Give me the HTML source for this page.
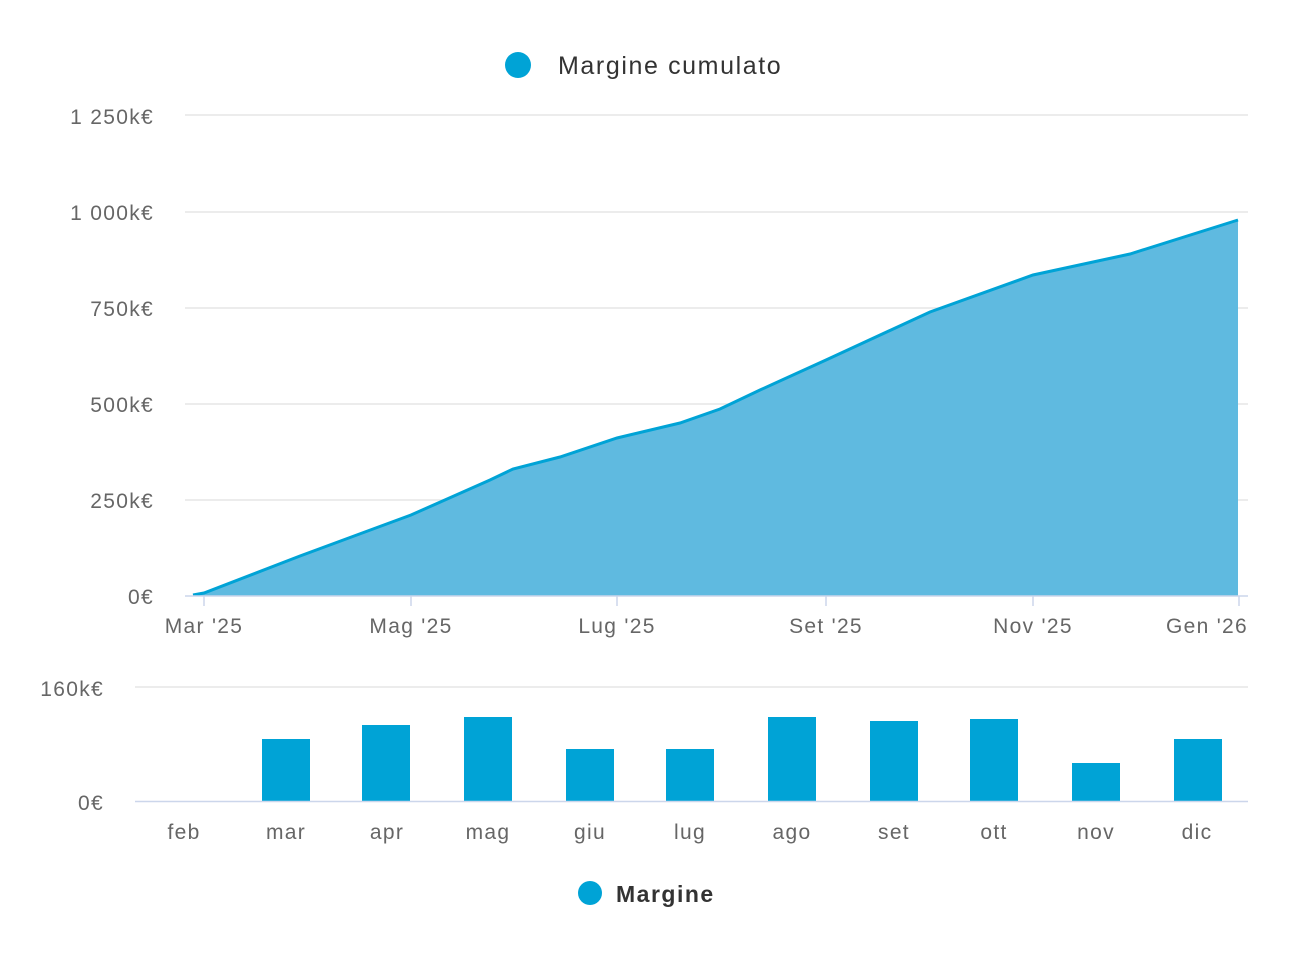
<!DOCTYPE html>
<html><head><meta charset="utf-8"><style>
html,body{margin:0;padding:0;background:#fff;}
svg{display:block;font-family:"Liberation Sans",sans-serif;}
</style></head><body>
<svg width="1302" height="960" viewBox="0 0 1302 960">
<circle cx="518" cy="65" r="13" fill="#00a3d6"/>
<text x="558" y="74" font-size="25" fill="#333" letter-spacing="1.6">Margine cumulato</text>
<g stroke="#e6e6e6" stroke-width="1.5">
<line x1="185" y1="115" x2="1248" y2="115"/>
<line x1="185" y1="212" x2="1248" y2="212"/>
<line x1="185" y1="308" x2="1248" y2="308"/>
<line x1="185" y1="404" x2="1248" y2="404"/>
<line x1="185" y1="500" x2="1248" y2="500"/>
</g>
<g font-size="21" fill="#666" text-anchor="end" letter-spacing="1.3">
<text x="154" y="124">1 250k€</text>
<text x="154" y="220">1 000k€</text>
<text x="154" y="316">750k€</text>
<text x="154" y="412">500k€</text>
<text x="154" y="508">250k€</text>
<text x="154" y="604">0€</text>
</g>
<path d="M193,595 L204,593 L300,556 L411,515 L490,480 L513,469 L560,457 L617,438 L680,423 L720,409 L760,390 L826,360 L930,312 L1033,275 L1130,254 L1238,220 L1238,596 L193,596 Z" fill="#5fbae0"/>
<path d="M193,595 L204,593 L300,556 L411,515 L490,480 L513,469 L560,457 L617,438 L680,423 L720,409 L760,390 L826,360 L930,312 L1033,275 L1130,254 L1238,220" fill="none" stroke="#00a3d6" stroke-width="3"/>
<line x1="185" y1="596" x2="1248" y2="596" stroke="#ccd6eb" stroke-width="1.5"/>
<g stroke="#ccd6eb" stroke-width="1.5">
<line x1="204" y1="596" x2="204" y2="606"/><line x1="411" y1="596" x2="411" y2="606"/>
<line x1="617" y1="596" x2="617" y2="606"/><line x1="826" y1="596" x2="826" y2="606"/>
<line x1="1033" y1="596" x2="1033" y2="606"/><line x1="1239" y1="596" x2="1239" y2="606"/>
</g>
<g font-size="21" fill="#666" text-anchor="middle" letter-spacing="1.3">
<text x="204" y="633">Mar '25</text><text x="411" y="633">Mag '25</text>
<text x="617" y="633">Lug '25</text><text x="826" y="633">Set '25</text>
<text x="1033" y="633">Nov '25</text><text x="1207" y="633">Gen '26</text>
</g>
<line x1="135" y1="687" x2="1248" y2="687" stroke="#e6e6e6" stroke-width="1.5"/>
<g font-size="21" fill="#666" text-anchor="end" letter-spacing="1.3">
<text x="104" y="696">160k€</text><text x="104" y="810">0€</text>
</g>
<g fill="#00a3d6">
<rect x="262" y="739" width="48" height="62"/>
<rect x="362" y="725" width="48" height="76"/>
<rect x="464" y="717" width="48" height="84"/>
<rect x="566" y="749" width="48" height="52"/>
<rect x="666" y="749" width="48" height="52"/>
<rect x="768" y="717" width="48" height="84"/>
<rect x="870" y="721" width="48" height="80"/>
<rect x="970" y="719" width="48" height="82"/>
<rect x="1072" y="763" width="48" height="38"/>
<rect x="1174" y="739" width="48" height="62"/>
</g>
<line x1="135" y1="801.5" x2="1248" y2="801.5" stroke="#ccd6eb" stroke-width="1.5"/>
<g font-size="21" fill="#666" text-anchor="middle" letter-spacing="1.3">
<text x="184" y="839">feb</text><text x="286" y="839">mar</text><text x="387" y="839">apr</text>
<text x="488" y="839">mag</text><text x="590" y="839">giu</text><text x="690" y="839">lug</text>
<text x="792" y="839">ago</text><text x="894" y="839">set</text><text x="994" y="839">ott</text>
<text x="1096" y="839">nov</text><text x="1197" y="839">dic</text>
</g>
<circle cx="590" cy="893" r="12" fill="#00a3d6"/>
<text x="616" y="902" font-size="23" font-weight="bold" fill="#333" letter-spacing="1.5">Margine</text>
</svg>
</body></html>
